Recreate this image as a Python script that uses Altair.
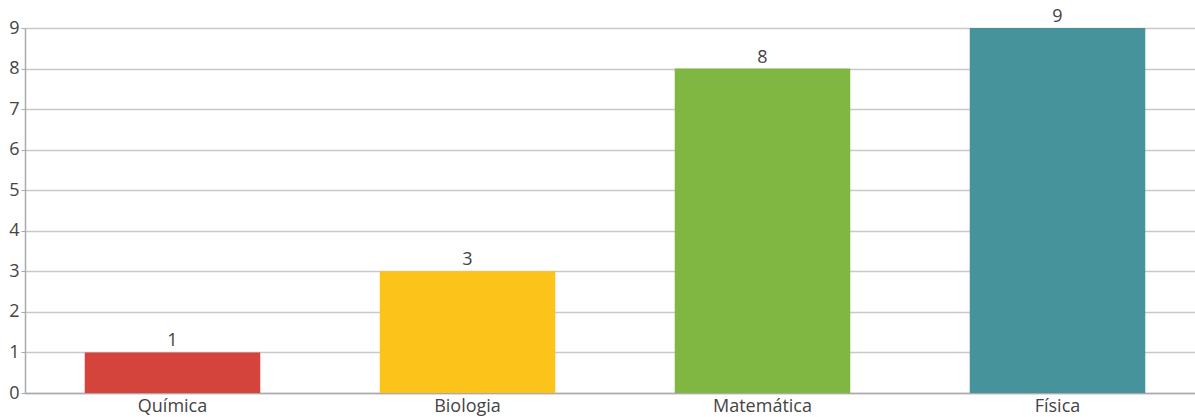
import altair as alt
import pandas as pd

subjects = ["Química", "Biologia", "Matemática", "Física"]
counts = [1, 3, 8, 9]
colors = ["#D5443C", "#FCC31A", "#80B642", "#46939C"]

df = pd.DataFrame({"subject": subjects, "count": counts})

FONT = "Open Sans"
TEXT = "#444444"

x = alt.X(
    "subject:N",
    sort=subjects,
    title=None,
    # band range runs a little past the right edge of the view
    scale=alt.Scale(range=[0, 1180], paddingInner=0.405, paddingOuter=0.2025),
    axis=alt.Axis(
        labelAngle=0, ticks=False, domainColor="#aaaaaa", domainWidth=1.5,
        labelFontSize=18, labelColor=TEXT, labelFont=FONT, labelPadding=4,
        grid=False,
    ),
)
y = alt.Y(
    "count:Q",
    title=None,
    scale=alt.Scale(domain=[0, 9], nice=False),
    axis=alt.Axis(
        values=list(range(10)), format="d", tickSize=4, tickColor="#aaaaaa",
        domainColor="#aaaaaa", domainWidth=1.5, gridColor="#c8c8c8", gridWidth=1.5,
        labelFontSize=18, labelColor=TEXT, labelFont=FONT, labelPadding=2,
    ),
)

bars = alt.Chart(df).mark_bar().encode(
    x=x,
    y=y,
    color=alt.Color("subject:N", sort=subjects,
                    scale=alt.Scale(domain=subjects, range=colors), legend=None),
)

labels = alt.Chart(df).mark_text(
    dy=-11, fontSize=18, color=TEXT, font=FONT, baseline="middle"
).encode(
    x=alt.X("subject:N", sort=subjects),
    y=alt.Y("count:Q"),
    text=alt.Text("count:Q"),
)

chart = (
    alt.layer(bars, labels)
    .properties(
        width=1170,
        height=365,
        padding={"left": 25, "top": 28, "right": 0, "bottom": 24},
        autosize=alt.AutoSizeParams(type="none"),
    )
    .configure_view(stroke=None)
    .configure(background="white")
)

chart.save("out.html", embed_options={"renderer": "svg", "actions": False})
